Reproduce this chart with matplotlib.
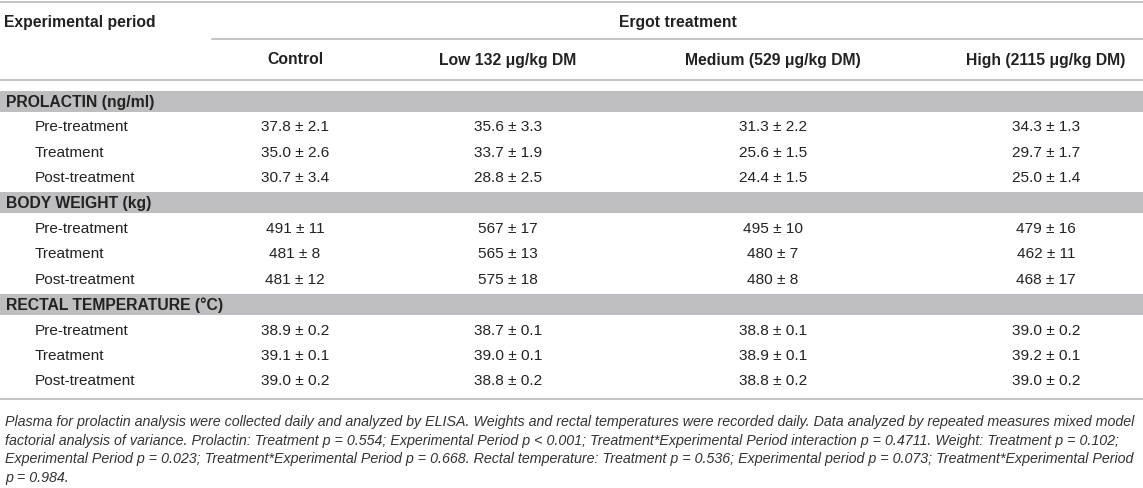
import numpy as np
import matplotlib
matplotlib.use("Agg")
import matplotlib.pyplot as plt
from matplotlib import font_manager

plt.rcParams["font.family"] = ["Liberation Sans", "DejaVu Sans"]

# Table contents (mean ± SE)

columns = ["Control", "Low 132 \u03bcg/kg DM", "Medium (529 \u03bcg/kg DM)", "High (2115 \u03bcg/kg DM)"]
periods = ["Pre-treatment", "Treatment", "Post-treatment"]
sections = ["PROLACTIN (ng/ml)", "BODY WEIGHT (kg)", "RECTAL TEMPERATURE (\u00b0C)"]

prolactin_mean = [[37.8, 35.6, 31.3, 34.3], [35.0, 33.7, 25.6, 29.7], [30.7, 28.8, 24.4, 25.0]]
prolactin_se = [[2.1, 3.3, 2.2, 1.3], [2.6, 1.9, 1.5, 1.7], [3.4, 2.5, 1.5, 1.4]]
weight_mean = [[491, 567, 495, 479], [481, 565, 480, 462], [481, 575, 480, 468]]
weight_se = [[11, 17, 10, 16], [8, 13, 7, 11], [12, 18, 8, 17]]
temp_mean = [[38.9, 38.7, 38.8, 39.0], [39.1, 39.0, 38.9, 39.2], [39.0, 38.8, 38.8, 39.0]]
temp_se = [[0.2, 0.1, 0.1, 0.2], [0.1, 0.1, 0.1, 0.1], [0.2, 0.2, 0.2, 0.2]]

footnote = [
    "Plasma for prolactin analysis were collected daily and analyzed by ELISA. Weights and rectal temperatures were recorded daily. Data analyzed by repeated measures mixed model",
    "factorial analysis of variance. Prolactin: Treatment p = 0.554; Experimental Period p < 0.001; Treatment*Experimental Period interaction p = 0.4711. Weight: Treatment p = 0.102;",
    "Experimental Period p = 0.023; Treatment*Experimental Period p = 0.668. Rectal temperature: Treatment p = 0.536; Experimental period p = 0.073; Treatment*Experimental Period",
    "p = 0.984.",
]

blocks = [
    (prolactin_mean, prolactin_se, "{:.1f} \u00b1 {:.1f}"),
    (weight_mean, weight_se, "{:d} \u00b1 {:d}"),
    (temp_mean, temp_se, "{:.1f} \u00b1 {:.1f}"),
]

W, H = 1143, 489
fig = plt.figure(figsize=(W / 100, H / 100), dpi=100)
ax = fig.add_axes([0, 0, 1, 1])
ax.set_xlim(0, W)
ax.set_ylim(H, 0)
ax.axis("off")

txt = "#222222"
rule = "#b4b4b4"
band = "#bebec0"
fs = 11.1
fsb = 11.3

col_x = [295, 508, 773, 1046]
row_step = 25.4
y0 = 102

# header
ax.plot([0, W], [3, 3], color=rule, lw=1.1)
ax.text(4, 23, "Experimental period", fontsize=fsb, fontweight="bold", color=txt, va="center")
ax.text((212 + W) / 2, 23, "Ergot treatment", fontsize=fsb, fontweight="bold", color=txt,
        va="center", ha="center")
ax.plot([212, W], [40, 40], color=rule, lw=1.1)
for x, c in zip(col_x, columns):
    ax.text(x, 60, c, fontsize=fsb, fontweight="bold", color=txt, va="center", ha="center")
ax.plot([0, W], [81, 81], color=rule, lw=1.1)

# body
y = y0
for name, (means, ses, fmt) in zip(sections, blocks):
    ax.fill_between([0, W], y - 10.5, y + 10.5, color=band, lw=0)
    ax.text(6, y, name, fontsize=fsb, fontweight="bold", color=txt, va="center")
    for p, mrow, srow in zip(periods, means, ses):
        y += row_step
        ax.text(35, y, p, fontsize=fs, color=txt, va="center")
        for x, m, s in zip(col_x, mrow, srow):
            ax.text(x, y, fmt.format(m, s), fontsize=fs, color=txt, va="center", ha="center")
    y += row_step

ax.plot([0, W], [400, 400], color=rule, lw=1.1)

# footnote, sized so the first line spans the table width
names = {f.name for f in font_manager.fontManager.ttflist}
foot_family = ["Liberation Sans Narrow", "Liberation Sans"] if "Liberation Sans Narrow" in names else ["Liberation Sans"]
probe = ax.text(0, 0, footnote[0], fontsize=10, style="italic", family=foot_family)
fig.canvas.draw()
wpx = probe.get_window_extent().width
probe.remove()
ffs = 10 * 1133 / wpx
for i, line in enumerate(footnote):
    ax.text(5, 422 + i * 18.7, line, fontsize=ffs, style="italic", color="#333333",
            va="center", family=foot_family)

fig.savefig("out.png", dpi=100)
